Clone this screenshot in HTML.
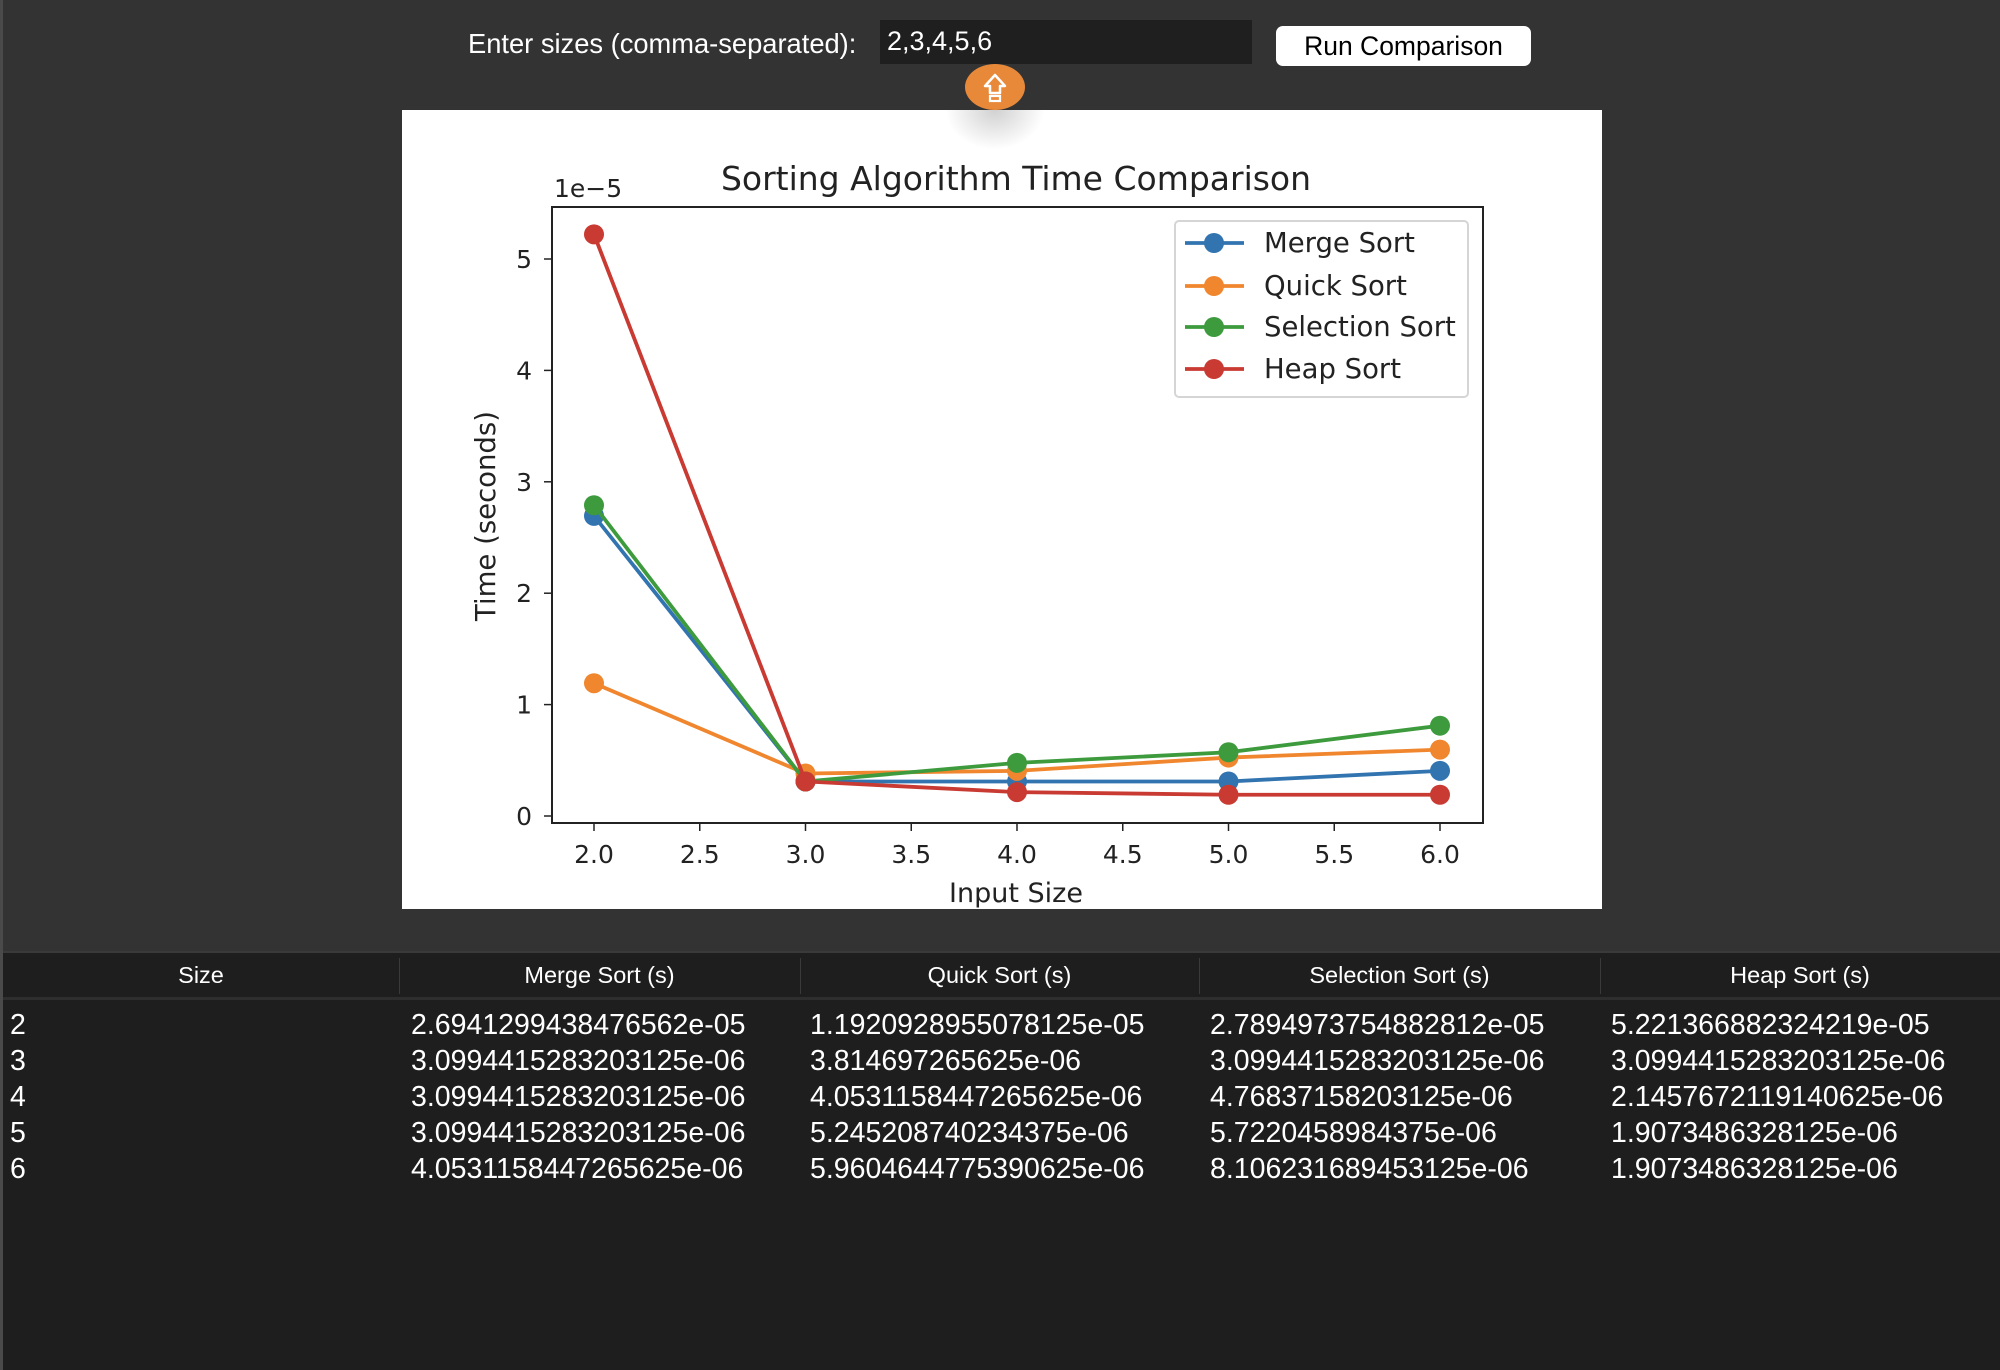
<!DOCTYPE html>
<html><head><meta charset="utf-8">
<style>
*{margin:0;padding:0;box-sizing:border-box}
body{width:2000px;height:1370px;background:#333;position:relative;overflow:hidden;font-family:"Liberation Sans",Arial,sans-serif;color:#fff}
.abs{position:absolute}
#leftbar{left:0;top:0;width:3px;height:1370px;background:#4a4a4a}
#lbl{left:468px;top:28px;font-size:27.3px;color:#fff}
#inp{left:880px;top:20px;width:372px;height:44px;background:#1f1f1f;color:#fff;font-size:27px;padding:6px 7px;border:none}
#btn{left:1276px;top:26px;width:255px;height:40px;background:#fff;color:#000;border-radius:7px;font-size:26.5px;text-align:center;line-height:40px}
#chart{left:402px;top:110px;width:1200px;height:799px;background:#fff}
#shadow{left:945px;top:110px;width:100px;height:40px;background:radial-gradient(ellipse at 50% 0%,rgba(0,0,0,0.18),rgba(0,0,0,0) 70%)}
#fab{left:965px;top:64px;width:60px;height:46px;border-radius:50%;background:#e8893a}
#table{left:3px;top:951px;width:1997px;height:419px;background:#1e1e1e;border-top:2px solid #3a3a3a}
#thead{left:0;top:0;width:1997px;height:47px;border-bottom:3px solid #2e2e2e}
.th{position:absolute;top:0;height:44px;line-height:44px;text-align:center;font-size:23.5px;color:#fff}
.sep{position:absolute;top:5px;width:1px;height:36px;background:#3a3a3a}
.td{position:absolute;font-size:28.5px;color:#fff;white-space:nowrap}
</style></head><body>
<div class="abs" id="leftbar"></div>
<div class="abs" id="lbl">Enter sizes (comma-separated):</div>
<div class="abs" id="inp">2,3,4,5,6</div>
<div class="abs" id="btn">Run Comparison</div>
<div class="abs" id="chart">
<svg id="svg" width="1200" height="799" viewBox="402 110 1200 799" xmlns="http://www.w3.org/2000/svg" font-family="DejaVu Sans, sans-serif"></svg>
</div>
<div class="abs" id="shadow"></div>
<div class="abs" id="fab">
<svg width="60" height="46" viewBox="0 0 60 46"><path d="M30 11 L40 22 L35 22 L35 29 L25 29 L25 22 L20 22 Z" fill="none" stroke="#fff" stroke-width="2.5" stroke-linejoin="round"/><rect x="25" y="32" width="10" height="5" fill="none" stroke="#fff" stroke-width="2.2"/></svg>
</div>
<div class="abs" id="table">
<div class="abs" id="thead">
<div class="th" style="left:0;width:396px">Size</div>
<div class="sep" style="left:396px"></div>
<div class="th" style="left:396px;width:401px">Merge Sort (s)</div>
<div class="sep" style="left:797px"></div>
<div class="th" style="left:797px;width:399px">Quick Sort (s)</div>
<div class="sep" style="left:1196px"></div>
<div class="th" style="left:1196px;width:401px">Selection Sort (s)</div>
<div class="sep" style="left:1597px"></div>
<div class="th" style="left:1597px;width:400px">Heap Sort (s)</div>
</div>
<div id="rows"></div>
</div>
<script>
const sizes=[2,3,4,5,6];
const merge=[2.6941299438476562e-05,3.0994415283203125e-06,3.0994415283203125e-06,3.0994415283203125e-06,4.0531158447265625e-06];
const quick=[1.1920928955078125e-05,3.814697265625e-06,4.0531158447265625e-06,5.245208740234375e-06,5.9604644775390625e-06];
const selection=[2.7894973754882812e-05,3.0994415283203125e-06,4.76837158203125e-06,5.7220458984375e-06,8.106231689453125e-06];
const heap=[5.221366882324219e-05,3.0994415283203125e-06,2.1457672119140625e-06,1.9073486328125e-06,1.9073486328125e-06];
const xTicks=["2.0","2.5","3.0","3.5","4.0","4.5","5.0","5.5","6.0"];
const xTickVals=[2,2.5,3,3.5,4,4.5,5,5.5,6];
const yTickVals=[0,1,2,3,4,5];
const seriesNames=["Merge Sort","Quick Sort","Selection Sort","Heap Sort"];
const seriesColors=["#3274b0","#f0862e","#3d9b3d","#c83a32"];
const seriesData=[merge,quick,selection,heap];

const NS="http://www.w3.org/2000/svg";
const svg=document.getElementById('svg');
const X0=552,X1=1483,Y0=207,Y1=823;
function sx(v){return 594+(v-2)*211.5;}
function sy(v){return 816-(v/1e-5)*111.4;}
function mk(tag,attrs,parent){const e=document.createElementNS(NS,tag);for(const k in attrs)e.setAttribute(k,attrs[k]);(parent||svg).appendChild(e);return e;}
function pyfmt(v){
  let s=v.toExponential();
  const m=s.match(/^(.*)e([+-])(\d+)$/);
  if(!m) return s;
  let mant=m[1]; if(mant.indexOf('.')<0) mant=mant+'.0';
  const ex=m[3].length<2?'0'+m[3]:m[3];
  return mant+'e'+m[2]+ex;
}

let t=mk('text',{x:1016,y:190,'text-anchor':'middle','font-size':33,fill:'#222'});t.textContent='Sorting Algorithm Time Comparison';


t=mk('text',{x:554,y:197,'font-size':25,fill:'#222'});t.textContent='1e\u22125';


t=mk('text',{x:1016,y:902,'text-anchor':'middle','font-size':27,fill:'#222'});t.textContent='Input Size';


t=mk('text',{x:0,y:0,'text-anchor':'middle','font-size':27.5,fill:'#222',transform:'translate(495,516) rotate(-90)'});t.textContent='Time (seconds)';



xTickVals.forEach((v,i)=>{
  const x=sx(v);
  const l=mk('line',{x1:x,x2:x,y1:Y1,y2:Y1+8,stroke:'#222','stroke-width':1.5});
  
  
  const tt=mk('text',{x:x,y:863,'text-anchor':'middle','font-size':25,fill:'#222'});tt.textContent=xTicks[i];
  
  
});
yTickVals.forEach(v=>{
  const y=sy(v*1e-5);
  const l=mk('line',{x1:X0-8,x2:X0,y1:y,y2:y,stroke:'#222','stroke-width':1.5});
  
  
  const tt=mk('text',{x:532,y:y+9,'text-anchor':'end','font-size':25,fill:'#222'});tt.textContent=String(v);
  
  
});

seriesData.forEach((d,si)=>{
  const g=mk('g',{});
  
  
  const pts=d.map((v,i)=>sx(sizes[i])+','+sy(v)).join(' ');
  const pl=mk('polyline',{points:pts,fill:'none',stroke:seriesColors[si],'stroke-width':3.8},g);
  
  
  d.forEach((v,i)=>{
    const c=mk('circle',{cx:sx(sizes[i]),cy:sy(v),r:10,fill:seriesColors[si]},g);
    
    
  });
});

const frame=mk('rect',{x:X0,y:Y0,width:X1-X0,height:Y1-Y0,fill:'none',stroke:'#222','stroke-width':2});



const lg=mk('g',{});


mk('rect',{x:1175,y:221,width:293,height:176,rx:4,fill:'#fff','fill-opacity':0.85,stroke:'#d5d5d5','stroke-width':2},lg);
const ly=[243,286,327,369];
seriesNames.forEach((n,i)=>{
  const e=mk('g',{},lg);
  
  
  mk('line',{x1:1185,x2:1244,y1:ly[i],y2:ly[i],stroke:seriesColors[i],'stroke-width':3.8},e);
  mk('circle',{cx:1214,cy:ly[i],r:10,fill:seriesColors[i]},e);
  const tt=mk('text',{x:1264,y:ly[i]+9,'font-size':27.5,fill:'#222'},e);tt.textContent=n;
});

const rows=document.getElementById('rows');
const colX=[7,408,807,1207,1608];
const rowY=[72,108,144,180,216];
sizes.forEach((s,r)=>{
  const vals=[String(s),pyfmt(merge[r]),pyfmt(quick[r]),pyfmt(selection[r]),pyfmt(heap[r])];
  vals.forEach((v,c)=>{
    const d=document.createElement('div');
    d.className='td';
    d.style.left=colX[c]+'px';
    d.style.top=(rowY[r]-16)+'px';
    d.textContent=v;
    
    
    rows.appendChild(d);
  });
});
</script>
</body></html>
